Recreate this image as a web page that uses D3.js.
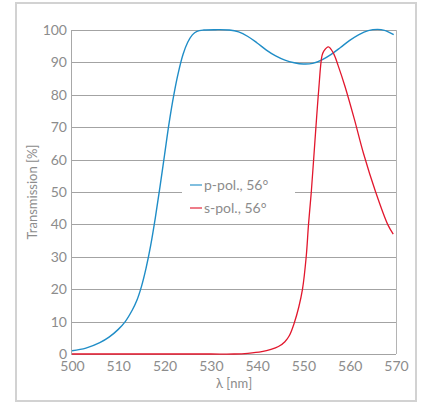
<!DOCTYPE html>
<html>
<head>
<meta charset="utf-8">
<script src="https://cdn.jsdelivr.net/npm/d3@7"></script>
<style>
  body { margin: 0; background: #fff; }
  text { font-family: Lato, "Noto Sans", sans-serif; fill: #8c8c8c; }
</style>
</head>
<body>
<div id="chart"></div>
<script>
/* Wavelength ticks and transmission ticks */
const xTicks = [500, 510, 520, 530, 540, 550, 560, 570];
const yTicks = [0, 10, 20, 30, 40, 50, 60, 70, 80, 90, 100];

/* p-pol., 56° */
const pWave = [500, 503, 506, 508, 510, 511.5, 513, 514, 515, 516, 517, 518, 519, 520, 521, 522, 523, 524, 525, 526, 527, 528.5, 531, 534, 536, 538, 540, 542, 544, 546, 548, 550, 552, 554, 556, 558, 560, 562, 564, 566, 567.5, 569.5];
const pTrans = [1, 1.8, 3.5, 5.2, 7.6, 10, 13.5, 16.5, 20.8, 26.5, 33.5, 42, 51.5, 61.5, 71.5, 80, 87, 92.5, 96.2, 98.5, 99.6, 100, 100.1, 100, 99.4, 98, 96, 93.8, 92, 90.7, 89.9, 89.5, 89.7, 90.8, 92.5, 94.6, 96.8, 98.6, 99.8, 100.2, 99.9, 98.6];

/* s-pol., 56° */
const sWave = [500, 510, 520, 530, 535, 538, 541, 543, 544.6, 546, 547, 548, 549, 549.8, 550.6, 551.1, 551.7, 552.5, 553.3, 554, 554.4, 555.4, 556.5, 557.5, 559, 561, 563, 565.6, 568.2, 569.4];
const sTrans = [0, 0, 0, 0, 0, 0.2, 0.7, 1.4, 2.3, 3.8, 5.8, 9.5, 14.5, 20, 30, 40, 50, 66, 81.5, 92, 93.5, 94.8, 92.8, 89, 82.5, 72.5, 61.8, 50, 40, 37];

const seriesNames = ['p-pol., 56°', 's-pol., 56°'];
const seriesColors = ['#1f8dc7', '#e2172d'];

const W = 424, H = 403;
const margin = { top: 30, right: 28, bottom: 49, left: 72 };

const svg = d3.select('#chart').append('svg')
    .attr('width', W)
    .attr('height', H);

/* Outer frame */
svg.append('rect')
    .attr('x', 16).attr('y', 3)
    .attr('width', 400).attr('height', 398)
    .attr('fill', 'none')
    .attr('stroke', '#d2d2d2')
    .attr('stroke-width', 2);

const x = d3.scaleLinear().domain([500, 570]).range([margin.left, W - margin.right]);
const y = d3.scaleLinear().domain([0, 100]).range([H - margin.bottom, margin.top]);

/* Gridlines */
const grid = svg.append('g').attr('class', 'grid');
grid.selectAll('line').data(yTicks).join('line')
    .attr('x1', x(500)).attr('x2', x(570))
    .attr('y1', d => Math.round(y(d)) + 0.5)
    .attr('y2', d => Math.round(y(d)) + 0.5)
    .attr('stroke', '#a3a3a3');

/* left and right borders of the plot */
svg.append('line')
    .attr('x1', Math.round(x(570)) + 0.5).attr('x2', Math.round(x(570)) + 0.5)
    .attr('y1', y(100)).attr('y2', y(0))
    .attr('stroke', '#b4b4b4');
svg.append('line')
    .attr('x1', Math.round(x(500)) - 0.5).attr('x2', Math.round(x(500)) - 0.5)
    .attr('y1', y(100)).attr('y2', y(0) + 1)
    .attr('stroke', '#a8a8a8');

/* Axes */
const yAxis = svg.append('g')
    .attr('transform', `translate(${margin.left},0)`)
    .call(d3.axisLeft(y).tickValues(yTicks).tickSize(0).tickPadding(5));
yAxis.select('.domain').remove();
yAxis.selectAll('.tick text').style('font-size', '14px').attr('fill', '#8c8c8c');

const xAxis = svg.append('g')
    .attr('transform', `translate(0,${y(0)})`)
    .call(d3.axisBottom(x).tickValues(xTicks).tickSize(0).tickPadding(7));
xAxis.select('.domain').remove();
xAxis.selectAll('.tick text').style('font-size', '14px').attr('fill', '#8c8c8c');

svg.append('text')
    .attr('x', (x(500) + x(570)) / 2)
    .attr('y', 388)
    .attr('text-anchor', 'middle')
    .style('font-size', '13px')
    .text('λ [nm]');

svg.append('text')
    .attr('transform', `translate(37,${(y(0) + y(100)) / 2}) rotate(-90)`)
    .attr('text-anchor', 'middle')
    .style('font-size', '13px')
    .text('Transmission [%]');

/* Legend box (hides the gridline) */
svg.append('rect')
    .attr('x', 182).attr('y', 172)
    .attr('width', 113).attr('height', 46)
    .attr('fill', '#fff');

/* Curves */
const line = d3.line()
    .x(d => x(d[0]))
    .y(d => y(d[1]))
    .curve(d3.curveCatmullRom.alpha(0.5));

const series = [
    d3.zip(pWave, pTrans),
    d3.zip(sWave, sTrans)
];

svg.append('g').selectAll('path').data(series).join('path')
    .attr('d', line)
    .attr('fill', 'none')
    .attr('stroke', (d, i) => seriesColors[i])
    .attr('stroke-width', (d, i) => i === 1 ? 1.3 : 1.4);

/* Legend */
const legend = svg.append('g').attr('transform', 'translate(190,185)');
const item = legend.selectAll('g').data(seriesNames).join('g')
    .attr('transform', (d, i) => `translate(0,${i * 23})`);
item.append('line')
    .attr('x1', 0).attr('x2', 12)
    .attr('stroke', (d, i) => seriesColors[i])
    .attr('stroke-opacity', 0.75)
    .attr('stroke-width', 1.5);
item.append('text')
    .attr('x', 14)
    .attr('dy', '0.35em')
    .style('font-size', '14px')
    .text(d => d);
</script>
</body>
</html>
